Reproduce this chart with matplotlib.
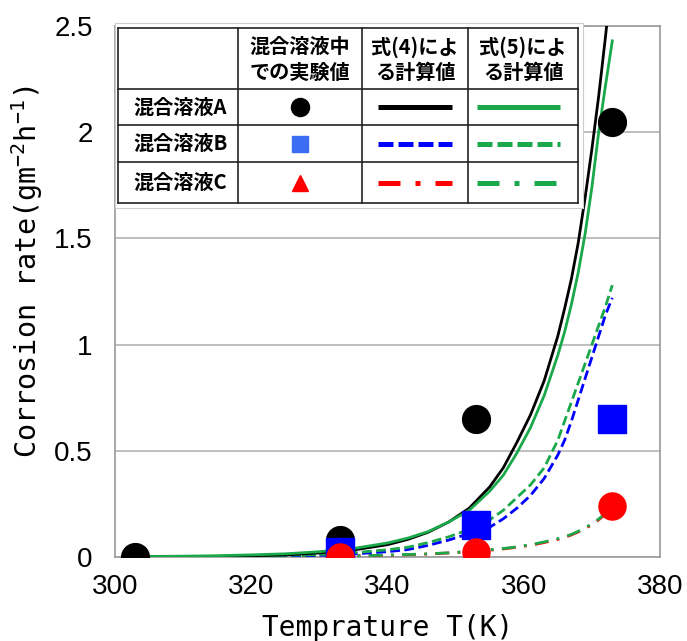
import numpy as np
import matplotlib
matplotlib.use("Agg")
import matplotlib.pyplot as plt

#-----Data-----#

# measured corrosion rates (markers)
T_exp_A = [303, 333, 353, 373]
rate_exp_A = [0.0, 0.08, 0.65, 2.05]
T_exp_BC = [333, 353, 373]
rate_exp_B = [0.025, 0.15, 0.65]
rate_exp_C = [0.0, 0.025, 0.24]

# calculated curves
T_calc = [303, 310, 315, 320, 325, 330, 335, 340, 343, 346, 349, 352, 355, 357, 359,
          361, 363, 365, 366, 367, 368, 369, 370, 371, 372, 373]
eq4_A = [0.001, 0.002, 0.003, 0.006, 0.010, 0.019, 0.033, 0.058, 0.083, 0.117, 0.165, 0.23, 0.33, 0.42, 0.54,
         0.67, 0.83, 1.04, 1.17, 1.31, 1.48, 1.69, 1.92, 2.17, 2.45, 2.75]
eq5_A = [0.002, 0.004, 0.006, 0.010, 0.015, 0.025, 0.040, 0.066, 0.089, 0.12, 0.165, 0.22, 0.31, 0.385, 0.49,
         0.61, 0.76, 0.95, 1.06, 1.19, 1.34, 1.52, 1.74, 2.0, 2.22, 2.43]
eq4_B = [0.0, 0.001, 0.002, 0.003, 0.005, 0.008, 0.014, 0.025, 0.035, 0.055, 0.08, 0.11, 0.14, 0.18, 0.23,
         0.29, 0.37, 0.48, 0.55, 0.64, 0.74, 0.84, 0.94, 1.04, 1.14, 1.22]
eq5_B = [0.001, 0.002, 0.003, 0.005, 0.008, 0.012, 0.020, 0.034, 0.046, 0.068, 0.095, 0.13, 0.175, 0.22, 0.28,
         0.34, 0.42, 0.55, 0.64, 0.73, 0.82, 0.91, 1.0, 1.09, 1.18, 1.28]
eq4_C = [0.0, 0.0, 0.001, 0.001, 0.002, 0.003, 0.005, 0.008, 0.011, 0.014, 0.019, 0.025, 0.032, 0.038, 0.046,
         0.055, 0.068, 0.083, 0.092, 0.104, 0.118, 0.134, 0.152, 0.175, 0.202, 0.23]
eq5_C = [0.0, 0.0, 0.001, 0.001, 0.002, 0.003, 0.005, 0.009, 0.012, 0.015, 0.020, 0.026, 0.034, 0.040, 0.048,
         0.058, 0.071, 0.086, 0.095, 0.107, 0.121, 0.138, 0.156, 0.179, 0.206, 0.235]

x_ticks = [300, 320, 340, 360, 380]
y_ticks = [0, 0.5, 1, 1.5, 2, 2.5]
y_ticklabels = ["0", "0.5", "1", "1.5", "2", "2.5"]

col_headers = ["混合溶液中\nでの実験値", "式(4)によ\nる計算値", "式(5)によ\nる計算値"]
row_labels = ["混合溶液A", "混合溶液B", "混合溶液C"]

#--/--Data--/--#

GREEN = "#1aa84a"
CJK = ["Noto Sans CJK JP", "DejaVu Sans"]
plt.rcParams["mathtext.fontset"] = "custom"
plt.rcParams["mathtext.rm"] = "DejaVu Sans Mono"
plt.rcParams["mathtext.default"] = "rm"

fig = plt.figure(figsize=(6.87, 6.41), dpi=100)
ax = fig.add_axes([115/687, 1-557/641, 545/687, 531/641])

dash_B = (3.5, 1.6)
dash_C = (5, 3, 1, 3)

ax.plot(T_calc, eq4_C, color="red", lw=2, dashes=dash_C, zorder=3)
ax.plot(T_calc, eq5_C, color=GREEN, lw=2, dashes=dash_C, zorder=3)
ax.plot(T_calc, eq4_B, color="blue", lw=2, dashes=dash_B, zorder=3)
ax.plot(T_calc, eq5_B, color=GREEN, lw=2, dashes=dash_B, zorder=3)
ax.plot(T_calc, eq4_A, color="black", lw=2, zorder=3)
ax.plot(T_calc, eq5_A, color=GREEN, lw=2, zorder=3)

ax.plot(T_exp_A, rate_exp_A, "o", color="black", ms=20, zorder=4)
ax.plot(T_exp_BC, rate_exp_B, "s", color="blue", ms=20, zorder=4)
ax.plot(T_exp_BC, rate_exp_C, "o", color="red", ms=19.5, zorder=4)

ax.set_xlim(300, 380)
ax.set_ylim(0, 2.5)
ax.set_xticks(x_ticks)
ax.set_yticks(y_ticks)
ax.set_yticklabels(y_ticklabels)
ax.tick_params(length=0, labelsize=20)
ax.tick_params(axis="y", pad=16)
ax.tick_params(axis="x", pad=12)
for lab in ax.get_xticklabels() + ax.get_yticklabels():
    lab.set_family("Liberation Sans")
ax.yaxis.grid(True, color="#b4b4b4", lw=1.2)
ax.set_axisbelow(True)
for sp in ax.spines.values():
    sp.set_color("#9a9a9a")
    sp.set_linewidth(1.2)

ax.set_xlabel("Temprature T(K)", family="DejaVu Sans Mono", fontsize=20)
ax.set_ylabel("Corrosion rate(gm$^{-2}$h$^{-1}$)", family="DejaVu Sans Mono", fontsize=20.5)
ax.xaxis.set_label_coords(0.5, -0.108)
ax.yaxis.set_label_coords(-0.128, 0.537)

#-----Legend table-----#
tax = fig.add_axes([115/687, 1-208/641, 468/687, 185/641])
tax.set_xlim(0, 468)
tax.set_ylim(185, 0)
tax.set_xticks([])
tax.set_yticks([])
tax.set_facecolor("white")
for sp in tax.spines.values():
    sp.set_color("#cccccc")
    sp.set_linewidth(0.8)

col_edges = [3, 123, 247, 353, 463]
row_edges = [5, 66, 102, 139, 180]
for xe in col_edges:
    tax.plot([xe, xe], [row_edges[0], row_edges[-1]], color="#222222", lw=1.2)
for ye in row_edges:
    tax.plot([col_edges[0], col_edges[-1]], [ye, ye], color="#222222", lw=1.2)

def mid(edges, i):
    return (edges[i] + edges[i+1]) / 2

for j, txt in enumerate(col_headers):
    tax.text(mid(col_edges, j+1), mid(row_edges, 0) + 1, txt, ha="center", va="center",
             fontsize=14.5, fontweight="bold", family=CJK, linespacing=1.25)
for i, txt in enumerate(row_labels):
    tax.text(col_edges[0] + 15, mid(row_edges, i+1), txt, ha="left", va="center",
             fontsize=14.5, fontweight="bold", family=CJK)

# sample markers
cx = mid(col_edges, 1)
tax.plot([cx], [mid(row_edges, 1)], "o", color="black", ms=13)
tax.plot([cx], [mid(row_edges, 2)], "s", color="#3a6cf4", ms=11)
tax.plot([cx], [mid(row_edges, 3)], "^", color="red", ms=12)

# sample lines
styles = [("black", "solid"), ("blue", (3, 1)), ("red", (4.4, 3, 1, 3))]
for i, (c4, ds) in enumerate(styles):
    yy = mid(row_edges, i+1)
    for xs, xe_, c in [(col_edges[2] + 16, col_edges[3] - 16, c4), (col_edges[3] + 9, col_edges[4] - 18, GREEN)]:
        ln, = tax.plot([xs, xe_], [yy, yy], color=c, lw=3.6, solid_capstyle="butt", dash_capstyle="butt")
        if ds != "solid":
            ln.set_dashes(ds)

fig.savefig("out.png", dpi=100)
